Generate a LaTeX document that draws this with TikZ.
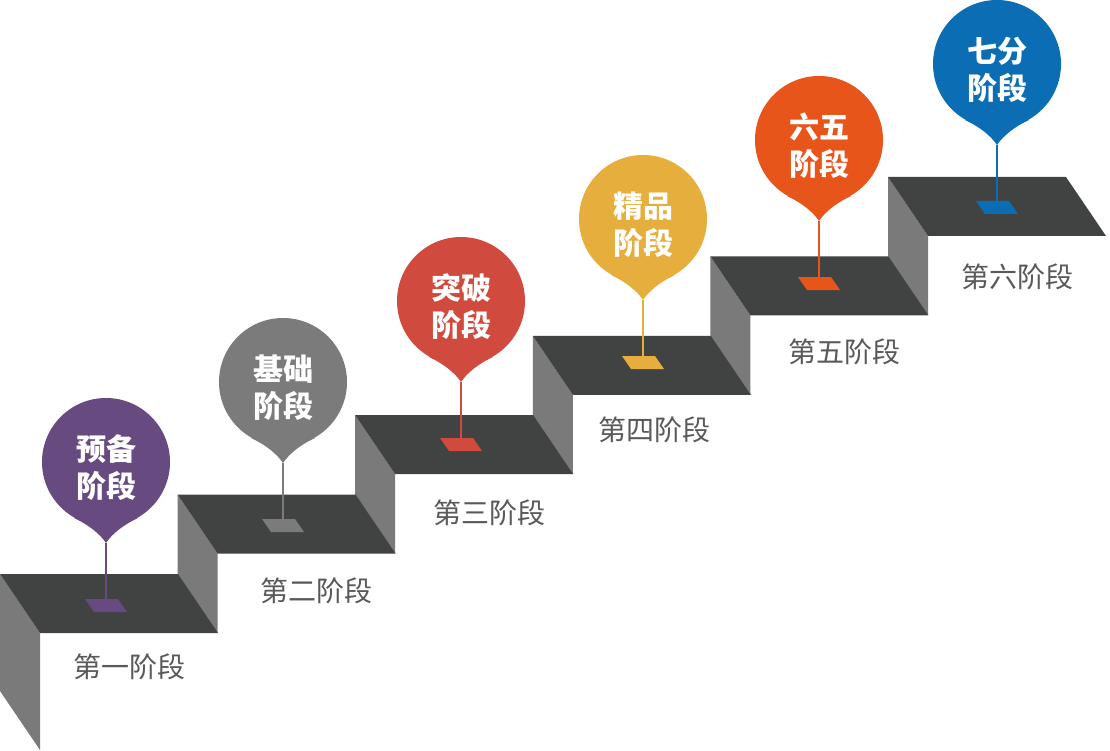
\documentclass[tikz,border=0pt]{standalone}
\usepackage{fontspec}
\newfontfamily\cjk{Noto Sans CJK SC}
\definecolor{facedark}{HTML}{414342}
\definecolor{risergray}{HTML}{7A7A7A}
\definecolor{labelgray}{HTML}{595959}
\definecolor{cA}{HTML}{664A80}
\definecolor{cB}{HTML}{7B7B7B}
\definecolor{cC}{HTML}{D04B3D}
\definecolor{cD}{HTML}{E5AE3D}
\definecolor{cE}{HTML}{E8551A}
\definecolor{cF}{HTML}{0B6DB4}
\tikzset{
  topface/.style={fill=facedark},
  riserface/.style={fill=risergray},
  bubbletext/.style={text=white, align=center, inner sep=0pt,
    font=\cjk\bfseries\fontsize{30}{37}\selectfont},
  steplabel/.style={text=labelgray, inner sep=0pt,
    font=\cjk\fontsize{28}{30}\selectfont},
}
\begin{document}
\begin{tikzpicture}[x=1pt,y=-1pt]
\useasboundingbox (0,0) rectangle (1110,751);
% left face of the first step
\fill[riserface] (0,574) -- (40,633) -- (40,750) -- (0,691) -- cycle;
% risers
\foreach \i in {1,...,5}{
  \pgfmathsetmacro{\xo}{177.6*\i}
  \pgfmathsetmacro{\yo}{574-79.4*\i}
  \fill[riserface] (\xo,\yo) -- (\xo+40,\yo+59) -- (\xo+40,\yo+138.4) -- (\xo,\yo+79.4) -- cycle;
}
% top faces
\foreach \i in {0,...,5}{
  \pgfmathsetmacro{\xo}{177.6*\i}
  \pgfmathsetmacro{\yo}{574-79.4*\i}
  \fill[topface] (\xo,\yo) -- (\xo+178,\yo) -- (\xo+218,\yo+59) -- (\xo+40,\yo+59) -- cycle;
}
% pins
\foreach \cx/\ty/\col/\ta/\n in {106/543/cA/预备/1, 283/463/cB/基础/2, 461/382/cC/突破/3, 643/300/cD/精品/4, 819/221/cE/六五/5, 997/145/cF/七分/6}{
  \fill[\col] (\cx-21,\ty+56) -- (\cx+12,\ty+56) -- (\cx+21,\ty+69) -- (\cx-12,\ty+69) -- cycle;
  \draw[\col, line width=2pt] (\cx,\ty) -- (\cx,\ty+57);
  \node[circle, fill=\col, minimum size=128pt, inner sep=0pt] (bubble\n) at (\cx,\ty-81) {};
  \fill[\col] (\cx-32,\ty-25) .. controls (\cx-17,\ty-18) and (\cx-6,\ty-9) .. (\cx,\ty)
     .. controls (\cx+6,\ty-9) and (\cx+17,\ty-18) .. (\cx+32,\ty-25) -- cycle;
  \node[bubbletext] (btext\n) at (\cx,\ty-75) {\ta\\阶段};
}
% step labels
\node[steplabel] (lab1) at (129,667) {第一阶段};
\node[steplabel] (lab2) at (316,591) {第二阶段};
\node[steplabel] (lab3) at (489,513) {第三阶段};
\node[steplabel] (lab4) at (654,430) {第四阶段};
\node[steplabel] (lab5) at (844,352) {第五阶段};
\node[steplabel] (lab6) at (1017,277) {第六阶段};
\end{tikzpicture}
\end{document}
